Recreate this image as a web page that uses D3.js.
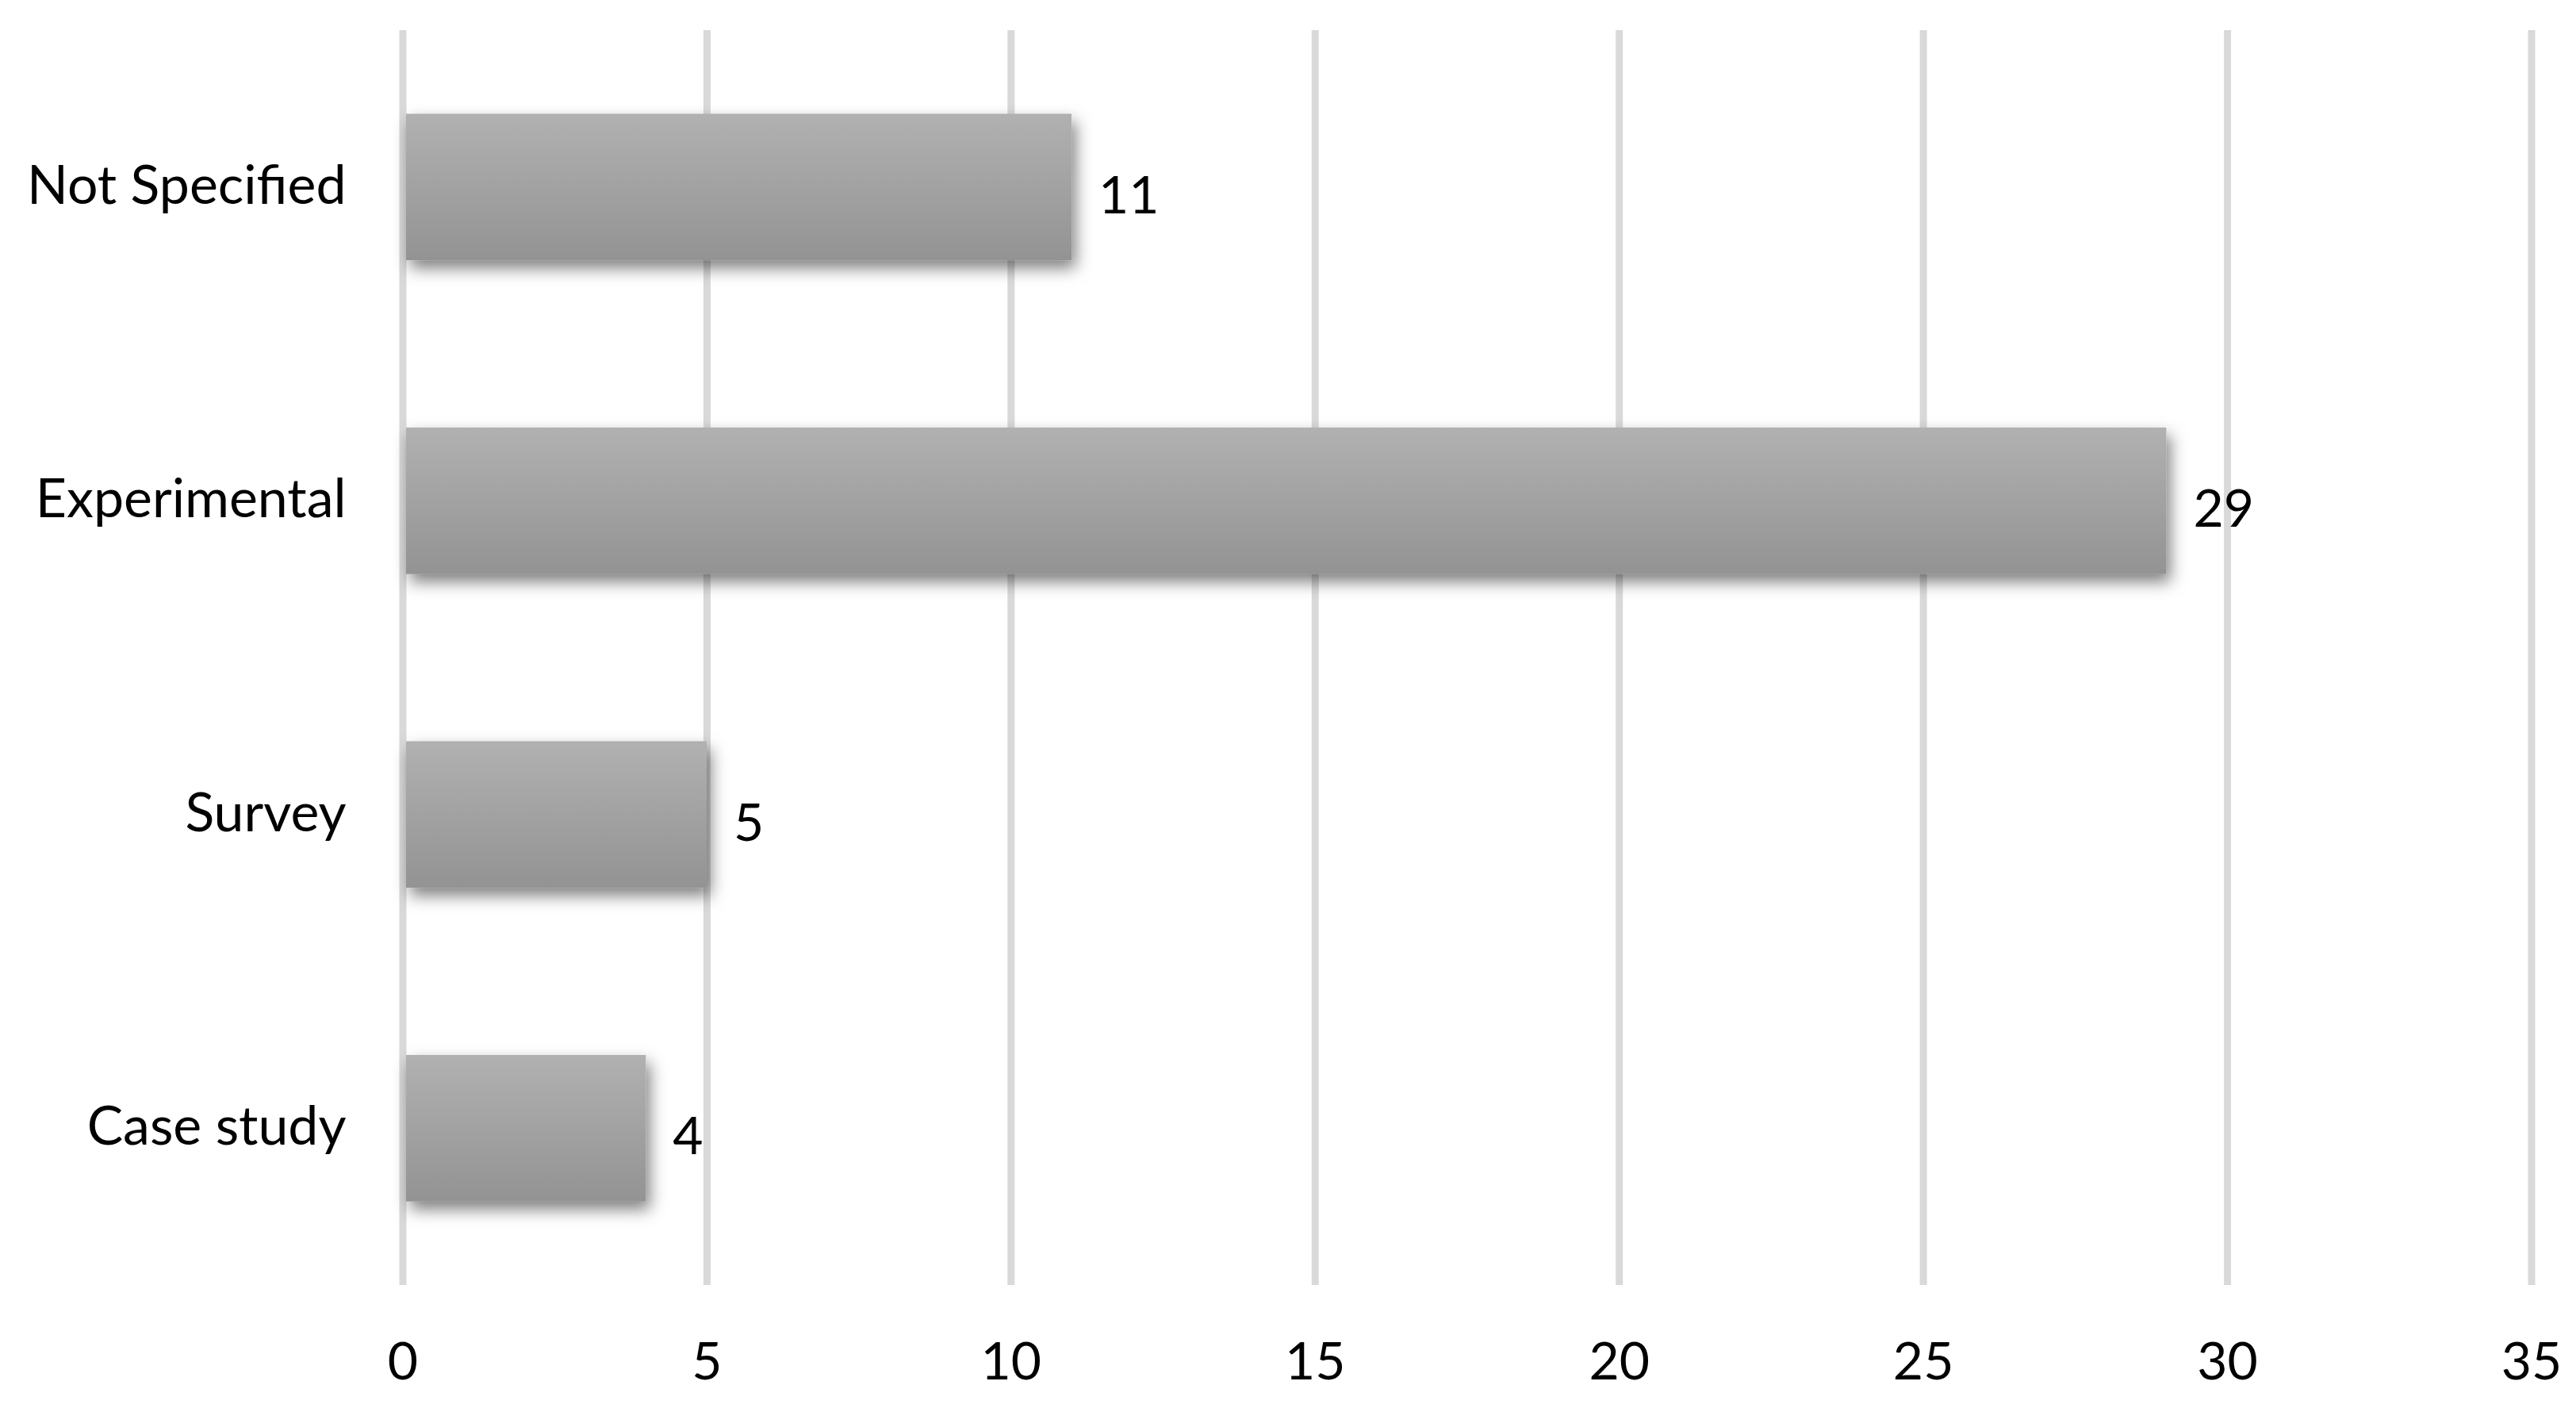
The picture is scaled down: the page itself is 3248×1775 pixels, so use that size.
<!DOCTYPE html>
<html>
<head>
<meta charset="utf-8">
<script src="https://cdn.jsdelivr.net/npm/d3@7"></script>
<style>
  html, body { margin: 0; padding: 0; background: #fff; }
  svg { display: block; }
</style>
</head>
<body>
<svg id="chart" width="3248" height="1775"></svg>
<script>
// ---- data ----
const categories = ["Not Specified", "Experimental", "Survey", "Case study"];
const values = [11, 29, 5, 4];
const xTicks = [0, 5, 10, 15, 20, 25, 30, 35];
const xDomain = [0, 35];

// ---- layout ----
const W = 3248, H = 1775;
const plot = { left: 507.5, right: 3191.5, top: 38, bottom: 1620 };
const gridW = 9;
const FONT = "Lato, 'Open Sans', sans-serif";
const fontSize = 66;
const catFontSize = 68;

const svg = d3.select("#chart");

const defs = svg.append("defs");
const grad = defs.append("linearGradient")
  .attr("id", "barGrad").attr("x1", 0).attr("y1", 0).attr("x2", 0).attr("y2", 1);
grad.append("stop").attr("offset", "0%").attr("stop-color", "#b1b1b1");
grad.append("stop").attr("offset", "100%").attr("stop-color", "#939393");

const filt = defs.append("filter").attr("id", "shadow")
  .attr("x", "-20%").attr("y", "-40%").attr("width", "140%").attr("height", "180%");
filt.append("feDropShadow")
  .attr("dx", 5).attr("dy", 10).attr("stdDeviation", 10)
  .attr("flood-color", "#000").attr("flood-opacity", 0.5);

const x = d3.scaleLinear().domain(xDomain).range([plot.left, plot.right]);
const y = d3.scaleBand().domain(categories).range([plot.top, plot.bottom])
  .paddingInner(0.533).paddingOuter(0.2665);

// gridlines + x tick labels via axis
const xAxis = d3.axisBottom(x)
  .tickValues(xTicks)
  .tickSize(-(plot.bottom - plot.top))
  .tickFormat(d3.format("d"));

const gx = svg.append("g")
  .attr("transform", `translate(0,${plot.bottom})`)
  .call(xAxis);
gx.select(".domain").remove();
gx.selectAll(".tick line")
  .attr("stroke", "#d9d9d9")
  .attr("stroke-width", gridW);
gx.selectAll(".tick text")
  .attr("y", 119)
  .attr("dy", null)
  .attr("fill", "#000")
  .style("font-family", FONT)
  .style("font-size", fontSize + "px");

// y axis labels
const yAxis = d3.axisLeft(y).tickSize(0).tickPadding(0);
const gy = svg.append("g")
  .attr("transform", `translate(${plot.left - 71},0)`)
  .call(yAxis);
gy.select(".domain").remove();
gy.selectAll(".tick text")
  .attr("x", 0)
  .attr("dy", null)
  .attr("y", 21)
  .attr("fill", "#000")
  .attr("text-anchor", "end")
  .style("font-family", FONT)
  .style("font-size", catFontSize + "px");

// bars
const data = categories.map((c, i) => ({ c, v: values[i] }));
svg.append("g").selectAll("rect")
  .data(data)
  .join("rect")
  .attr("x", x(0) + gridW / 2)
  .attr("y", d => y(d.c))
  .attr("width", d => x(d.v) - x(0) - gridW / 2)
  .attr("height", y.bandwidth())
  .attr("fill", "url(#barGrad)")
  .attr("filter", "url(#shadow)");

// value labels
svg.append("g").selectAll("text")
  .data(data)
  .join("text")
  .attr("x", d => x(d.v) + 34)
  .attr("y", d => y(d.c) + y.bandwidth() / 2 + 33)
  .attr("fill", "#000")
  .style("font-family", FONT)
  .style("font-size", fontSize + "px")
  .text(d => d.v);
</script>
</body>
</html>
